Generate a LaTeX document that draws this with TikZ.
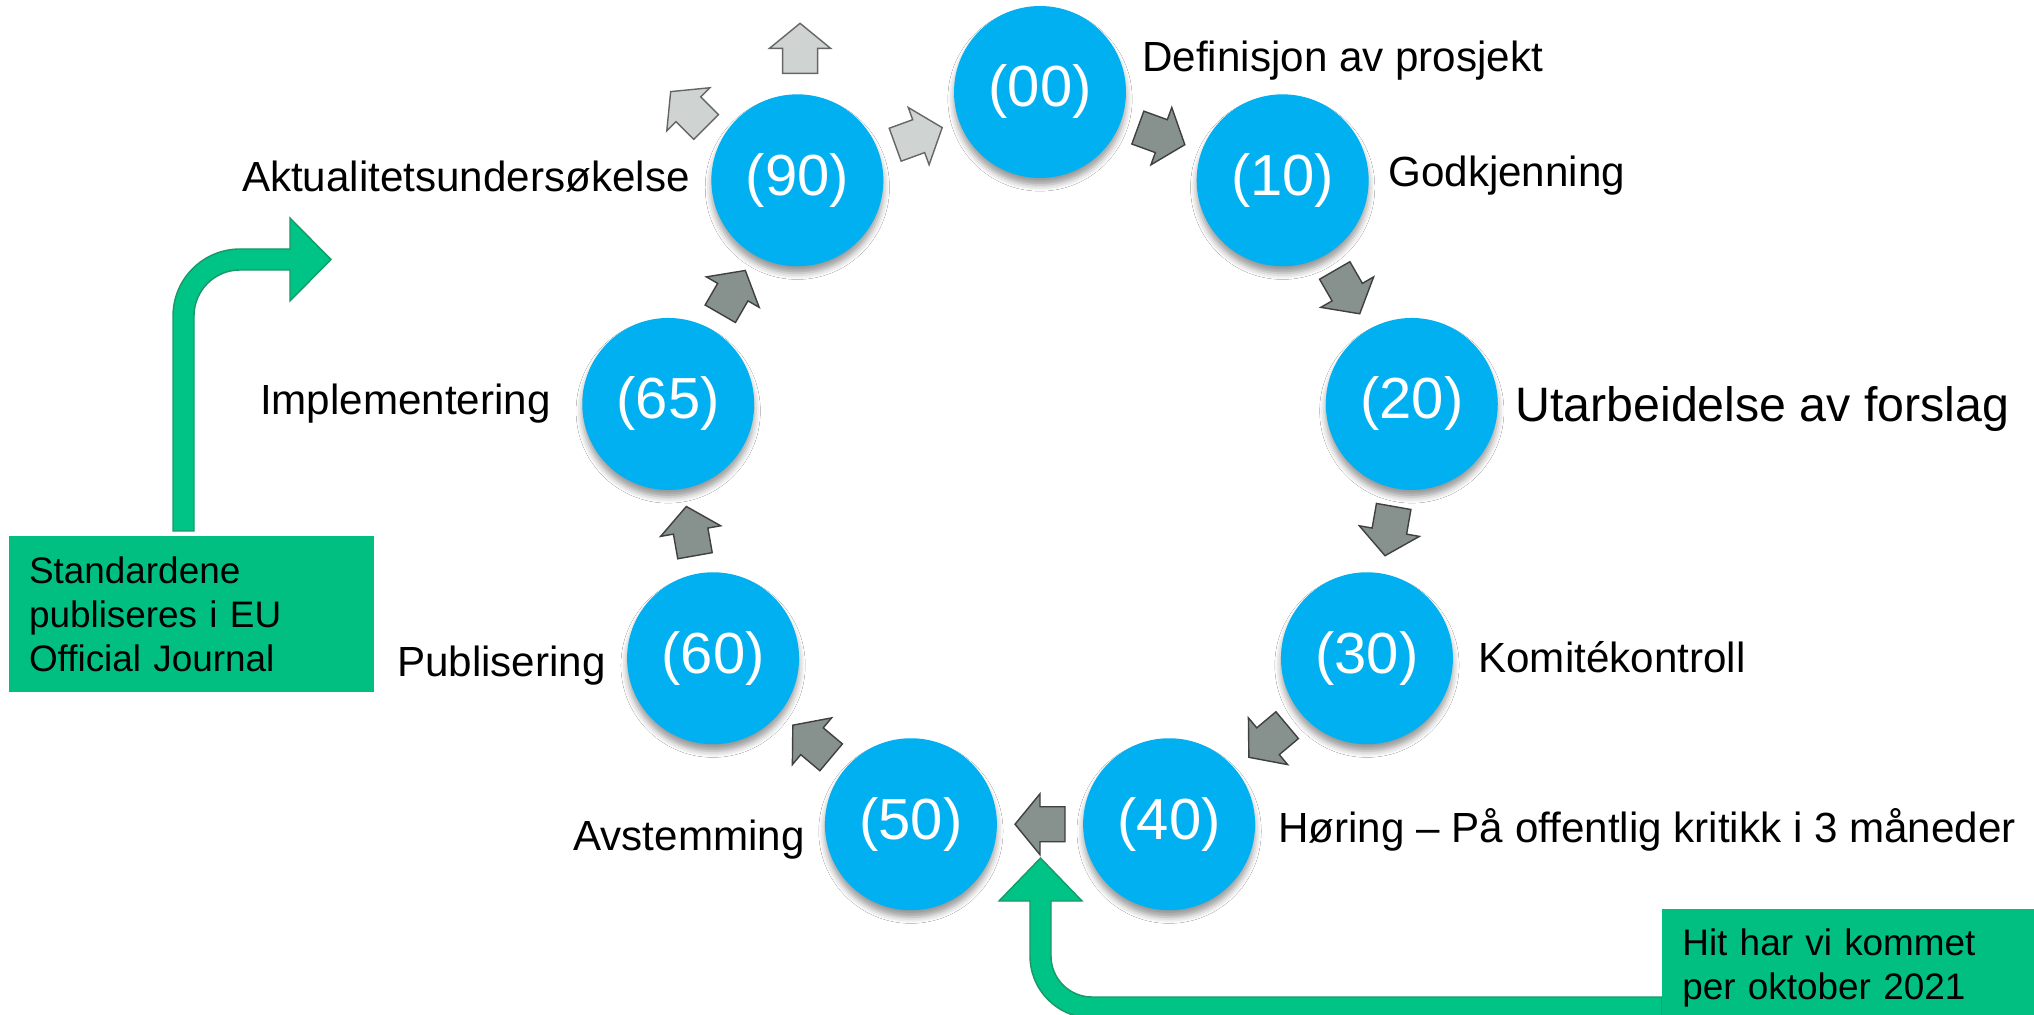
\documentclass[tikz,border=0pt]{standalone}
\usepackage{fontspec}
\setmainfont{Liberation Sans}
\usetikzlibrary{calc,shadows.blur}
\definecolor{ringblue}{HTML}{00B0F0}
\definecolor{arrdark}{HTML}{87928F}
\definecolor{arrlight}{HTML}{CFD4D3}
\definecolor{boxgreen}{HTML}{00BF80}
\definecolor{arrgreen}{HTML}{00C386}
\definecolor{arrgreenline}{HTML}{1A9966}
\newcommand\ringfont{\fontsize{33}{40}\selectfont}
\newcommand\labfont{\fontsize{24}{29}\selectfont}
\newcommand\biglabfont{\fontsize{27.5}{33}\selectfont}
\newcommand\boxfont{\fontsize{21}{25}\selectfont}
% block arrow placed halfway between two nodes, turned to the given angle
\newcommand\blockarr[4]{%
  \begin{scope}[shift={($(#1)!0.5!(#2)$)}, rotate=#3]
    \draw[#4] (-25,-17.5) -- (0,-17.5) -- (0,-30.5) -- (25,0) -- (0,30.5) -- (0,17.5) -- (-25,17.5) -- cycle;
  \end{scope}}
\newcommand\freearr[3]{%
  \begin{scope}[shift={#1}, rotate=#2]
    \draw[#3] (-25,-17.5) -- (0,-17.5) -- (0,-30.5) -- (25,0) -- (0,30.5) -- (0,17.5) -- (-25,17.5) -- cycle;
  \end{scope}}
\begin{document}
\begin{tikzpicture}[x=0.02cm,y=0.02cm,
  stage/.style={circle, fill=ringblue, minimum size=3.44cm, inner sep=0pt,
    text=white, font=\ringfont,
    blur shadow={shadow xshift=0pt, shadow yshift=-4pt, shadow blur radius=3.5pt, shadow opacity=40}},
  lab/.style={inner sep=0pt, font=\labfont, text=black},
  darkarr/.style={fill=arrdark, draw=black!75, line width=0.8pt, line join=miter},
  lightarr/.style={fill=arrlight, draw=black!60, line width=0.8pt, line join=miter},
  greenbox/.style={fill=boxgreen, font=\boxfont, align=left, inner xsep=0.4cm},
  greenarr/.style={fill=arrgreen, draw=arrgreenline, line width=0.8pt, line join=miter}]
\useasboundingbox[fill=white] (0,0) rectangle (2034,1014);

\coordinate (C) at (1040,544.5);
\node[stage] (n00) at ($(C)+(90:377.5)$) {(00)};
\node[stage] (n10) at ($(C)+(50:377.5)$) {(10)};
\node[stage] (n20) at ($(C)+(10:377.5)$) {(20)};
\node[stage] (n30) at ($(C)+(-30:377.5)$) {(30)};
\node[stage] (n40) at ($(C)+(-70:377.5)$) {(40)};
\node[stage] (n50) at ($(C)+(-110:377.5)$) {(50)};
\node[stage] (n60) at ($(C)+(-150:377.5)$) {(60)};
\node[stage] (n65) at ($(C)+(170:377.5)$) {(65)};
\node[stage] (n90) at ($(C)+(130:377.5)$) {(90)};

\blockarr{n00}{n10}{-20}{darkarr}
\blockarr{n10}{n20}{-60}{darkarr}
\blockarr{n20}{n30}{-100}{darkarr}
\blockarr{n30}{n40}{-140}{darkarr}
\blockarr{n40}{n50}{180}{darkarr}
\blockarr{n50}{n60}{140}{darkarr}
\blockarr{n60}{n65}{100}{darkarr}
\blockarr{n65}{n90}{60}{darkarr}
\blockarr{n90}{n00}{20}{lightarr}
\freearr{($(n90)+(2.7,132)$)}{90}{lightarr}
\freearr{($(n90)+(-109,71)$)}{135}{lightarr}

\node[lab, anchor=base west] (l00) at (1142,942) {Definisjon av prosjekt};
\node[lab, anchor=base west] (l10) at (1388,827) {Godkjenning};
\node[lab, anchor=base west, font=\biglabfont] (l20) at (1515,592) {Utarbeidelse av forslag};
\node[lab, anchor=base west] (l30) at (1478,341) {Komitékontroll};
\node[lab, anchor=base west] (l40) at (1278,172) {Høring – På offentlig kritikk i 3 måneder};
\node[lab, anchor=base east] (l50) at (805,163) {Avstemming};
\node[lab, anchor=base east] (l60) at (606,337) {Publisering};
\node[lab, anchor=base east] (l65) at (551,599) {Implementering};
\node[lab, anchor=base east] (l90) at (690,822) {Aktualitetsundersøkelse};

% left note and its bent arrow
\node[greenbox, text width=6.5cm, minimum height=3.12cm, inner ysep=0pt] (lbox) at (191.5,400)
  {Standardene\\publiseres i EU\\Official Journal};
\draw[greenarr] (173,483) -- (173,698) arc[start angle=180, end angle=90, radius=67]
  -- (290,765) -- (290,796) -- (331,754.5) -- (290,713) -- (290,744) -- (240,744)
  arc[start angle=90, end angle=180, radius=46] -- (194,483) -- cycle;

% right note and its bent arrow
\draw[greenarr] (1662,17) -- (1092,17) arc[start angle=270, end angle=180, radius=41]
  -- (1051,113) -- (1082,113) -- (1040.5,156) -- (999,113) -- (1030,113) -- (1030,58)
  arc[start angle=180, end angle=270, radius=62] -- (1662,-4) -- cycle;
\node[greenbox, text width=6.8cm, inner ysep=0.38cm, anchor=north west] (rbox) at (1662,105)
  {Hit har vi kommet\\per oktober 2021};
\end{tikzpicture}
\end{document}
